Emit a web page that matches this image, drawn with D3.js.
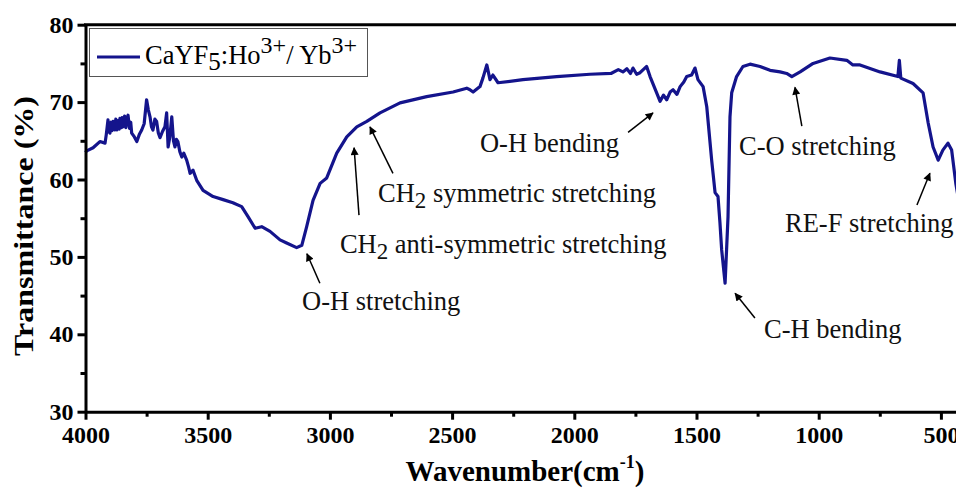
<!DOCTYPE html>
<html>
<head>
<meta charset="utf-8">
<script src="https://cdn.jsdelivr.net/npm/d3@7"></script>
<style>
body { margin: 0; background: #fff; }
svg { display: block; font-family: "Liberation Serif", "Times New Roman", serif; }
</style>
</head>
<body>
<svg id="chart" width="956" height="488"></svg>
<script>
// FTIR spectrum
const wavenumber = [4000, 3995, 3969, 3941, 3920, 3915, 3908, 3904, 3900, 3895, 3892, 3887, 3880, 3876, 3872, 3866,
	3862, 3859, 3853, 3850, 3847, 3840, 3835, 3830, 3826, 3820, 3815, 3811, 3800, 3790, 3780, 3770, 3760, 3750,
	3743, 3736, 3730, 3724, 3716, 3709, 3702, 3695, 3685, 3675, 3668, 3662, 3655, 3647, 3640, 3634, 3628, 3622, 3614,
	3606, 3598, 3586, 3578, 3572, 3560, 3545, 3519, 3478, 3437, 3397,
	3361, 3335, 3306, 3279, 3245, 3204, 3177, 3136, 3115, 3095, 3069, 3040, 3013, 2972, 2931, 2890, 2849, 2795, 2713,
	2604, 2496, 2440, 2427, 2414, 2386, 2374, 2358, 2345, 2333, 2312, 2210, 2072, 1936, 1850, 1820, 1801, 1785, 1770,
	1760, 1745, 1731, 1718, 1704, 1690,
	1663, 1649, 1635, 1622, 1608, 1596, 1580, 1567, 1552, 1540, 1520, 1506, 1494, 1473, 1458, 1438, 1424, 1412, 1404,
	1397, 1383, 1371, 1363, 1356, 1336, 1310, 1281, 1240, 1199, 1158, 1131, 1110, 1076, 1023, 954, 885, 860, 831, 749,
	676, 670, 664, 614, 573, 552, 532, 511, 492, 471, 456, 439, 420];
const transmittance = [63.5, 63.7, 64.1, 64.9, 64.7, 65.8, 67.7, 66.2, 66.0, 67.4, 66.3, 67.5, 66.4, 67.8, 66.4, 67.6,
	66.5, 67.9, 66.7, 68.0, 66.8, 68.2, 66.7, 67.9, 68.3, 66.6, 67.4, 66.0, 65.5, 64.9, 65.8, 66.4, 67.2, 70.3,
	69.0, 68.1, 66.8, 66.4, 67.8, 67.5, 66.0, 65.4, 66.2, 66.8, 68.6, 64.2, 65.5, 68.1, 65.0, 64.2, 65.2, 64.9, 63.6,
	62.9, 63.4, 62.5, 61.6, 60.8, 61.2, 59.9, 58.6, 57.8, 57.4, 57.0,
	56.5, 55.2, 53.7, 53.9, 53.3, 52.2, 51.8, 51.2, 51.5, 53.9, 57.3, 59.5, 60.2, 63.4, 65.5, 66.8, 67.5, 68.6, 69.9,
	70.7, 71.3, 71.8, 71.6, 71.3, 72.0, 73.1, 74.8, 72.9, 73.5, 72.5, 72.9, 73.3, 73.6, 73.7, 74.2, 73.9, 74.3, 73.7,
	74.4, 73.6, 73.8, 74.2, 74.6, 73.3,
	71.2, 70.1, 70.9, 70.3, 71.3, 71.6, 71.0, 72.0, 72.6, 73.3, 73.5, 74.4, 72.9, 72.0, 69.4, 62.5, 58.3, 57.8, 54.4,
	50.9, 46.6, 55.2, 68.1, 71.2, 73.3, 74.6, 74.9, 74.6, 74.1, 73.9, 73.7, 73.3, 73.9, 75.0, 75.7, 75.4, 74.8, 74.8, 73.9,
	73.3, 75.4, 73.1, 72.4, 71.2, 67.3, 64.2, 62.5, 63.8, 64.7, 63.8, 59.5, 56.0];

const xMajorTicks = [4000, 3500, 3000, 2500, 2000, 1500, 1000, 500];
const xMinorTicks = [3750, 3250, 2750, 2250, 1750, 1250, 750];
const yMajorTicks = [30, 40, 50, 60, 70, 80];
const yMinorTicks = [35, 45, 55, 65, 75];

// band labels: text anchor, arrow tail, arrow head (wavenumber, %T)
const bandLabels = [
	{ parts: [["O-H stretching"]], text: [3114, 43.1], tail: [3041, 46.6], head: [3094, 50.4] },
	{ parts: [["CH"], ["2", "sub"], [" anti-symmetric stretching"]], text: [2959, 50.5], tail: [2881, 55.4], head: [2901, 64.1] },
	{ parts: [["CH"], ["2", "sub"], [" symmetric stretching"]], text: [2803, 57.1], tail: [2742, 60.8], head: [2836, 66.8] },
	{ parts: [["O-H bending"]], text: [2386, 63.5], tail: [1780, 66.1], head: [1678, 68.6] },
	{ parts: [["C-H bending"]], text: [1224, 39.5], tail: [1261, 42.1], head: [1342, 45.3] },
	{ parts: [["C-O stretching"]], text: [1326, 63.2], tail: [1069, 66.9], head: [1097, 71.9] },
	{ parts: [["RE-F stretching"]], text: [1138, 53.2], tail: [598, 56.7], head: [545, 60.8] }
];

const lineColor = "#14148c";
const serif = "'Liberation Serif', 'Times New Roman', serif";

const svg = d3.select("#chart");
const plotLeft = 85.5, plotTop = 24.7, plotBottom = 411.7;

const xScale = d3.scaleLinear().domain([4000, 400]).range([plotLeft, plotLeft + 3600 * 0.2444]);
const yScale = d3.scaleLinear().domain([30, 80]).range([plotBottom, plotTop]);

svg.append("defs").append("marker")
	.attr("id", "arrow")
	.attr("viewBox", "0 0 10 10")
	.attr("refX", 9)
	.attr("refY", 5)
	.attr("markerWidth", 10)
	.attr("markerHeight", 8)
	.attr("markerUnits", "userSpaceOnUse")
	.attr("orient", "auto")
	.append("path")
	.attr("d", "M0,0 L10,5 L0,10 Z")
	.attr("fill", "black");

// spectrum
svg.append("path")
	.datum(wavenumber.map((w, i) => [w, transmittance[i]]))
	.attr("d", d3.line().x(d => xScale(d[0])).y(d => yScale(d[1])))
	.attr("fill", "none")
	.attr("stroke", lineColor)
	.attr("stroke-width", 3.2)
	.attr("stroke-linejoin", "round");

// axis - x
svg.append("g")
	.attr("transform", `translate(0, ${plotBottom})`)
	.call(d3.axisBottom(xScale).tickValues(xMajorTicks).tickFormat(d3.format("d")).tickSize(8).tickPadding(6).tickSizeOuter(0));
svg.append("g")
	.attr("transform", `translate(0, ${plotBottom})`)
	.call(d3.axisBottom(xScale).tickValues(xMinorTicks).tickSize(5).tickFormat("").tickSizeOuter(0))
	.select(".domain").remove();

// axis - y
svg.append("g")
	.attr("transform", `translate(${plotLeft}, 0)`)
	.call(d3.axisLeft(yScale).tickValues(yMajorTicks).tickFormat(d3.format("d")).tickSize(8).tickPadding(4).tickSizeOuter(0));
svg.append("g")
	.attr("transform", `translate(${plotLeft}, 0)`)
	.call(d3.axisLeft(yScale).tickValues(yMinorTicks).tickSize(5).tickFormat("").tickSizeOuter(0))
	.select(".domain").remove();

svg.selectAll(".domain, .tick line")
	.attr("stroke", "black")
	.attr("stroke-width", 3);
svg.selectAll(".tick text")
	.attr("font-family", serif)
	.attr("font-size", "24px")
	.attr("font-weight", "bold")
	.attr("fill", "black");

// top frame
svg.append("line")
	.attr("x1", plotLeft - 1.5)
	.attr("x2", 956)
	.attr("y1", plotTop)
	.attr("y2", plotTop)
	.attr("stroke", "black")
	.attr("stroke-width", 3);

// axis titles
const xTitle = svg.append("text")
	.attr("x", 525)
	.attr("y", 481)
	.attr("text-anchor", "middle")
	.attr("font-size", "29px")
	.attr("font-weight", "bold");
xTitle.append("tspan").text("Wavenumber(cm");
xTitle.append("tspan").attr("dy", -13).attr("font-size", "18px").text("-1");
xTitle.append("tspan").attr("dy", 13).text(")");

svg.append("text")
	.attr("transform", "translate(33, 226) rotate(-90)")
	.attr("text-anchor", "middle")
	.attr("font-size", "27px")
	.attr("font-weight", "bold")
	.attr("textLength", 260)
	.attr("lengthAdjust", "spacingAndGlyphs")
	.text("Transmittance (%)");

// legend
svg.append("rect")
	.attr("x", 89.5)
	.attr("y", 28.5)
	.attr("width", 278)
	.attr("height", 48)
	.attr("fill", "white")
	.attr("stroke", "#555")
	.attr("stroke-width", 1);
svg.append("line")
	.attr("x1", 97)
	.attr("x2", 140)
	.attr("y1", 57)
	.attr("y2", 57)
	.attr("stroke", lineColor)
	.attr("stroke-width", 3);
const legendText = svg.append("text")
	.attr("x", 145)
	.attr("y", 64)
	.attr("font-size", "26.5px");
legendText.append("tspan").text("CaYF");
legendText.append("tspan").attr("dy", 6).attr("font-size", "25px").text("5");
legendText.append("tspan").attr("dy", -6).text(":Ho");
legendText.append("tspan").attr("dy", -11).attr("font-size", "24px").text("3+");
legendText.append("tspan").attr("dy", 11).text("/ Yb");
legendText.append("tspan").attr("dy", -11).attr("font-size", "24px").text("3+");

// band annotations
bandLabels.forEach(b => {
	svg.append("line")
		.attr("x1", xScale(b.tail[0]))
		.attr("y1", yScale(b.tail[1]))
		.attr("x2", xScale(b.head[0]))
		.attr("y2", yScale(b.head[1]))
		.attr("stroke", "black")
		.attr("stroke-width", 1.5)
		.attr("marker-end", "url(#arrow)");

	const t = svg.append("text")
		.attr("x", xScale(b.text[0]))
		.attr("y", yScale(b.text[1]))
		.attr("font-size", "26.5px")
		.attr("fill", "#111");
	let shift = 0;
	b.parts.forEach(p => {
		const dy = p[1] === "sub" ? 6 - shift : -shift;
		shift += dy;
		t.append("tspan").attr("dy", dy).attr("font-size", p[1] === "sub" ? "23px" : null).text(p[0]);
	});
});
</script>
</body>
</html>
